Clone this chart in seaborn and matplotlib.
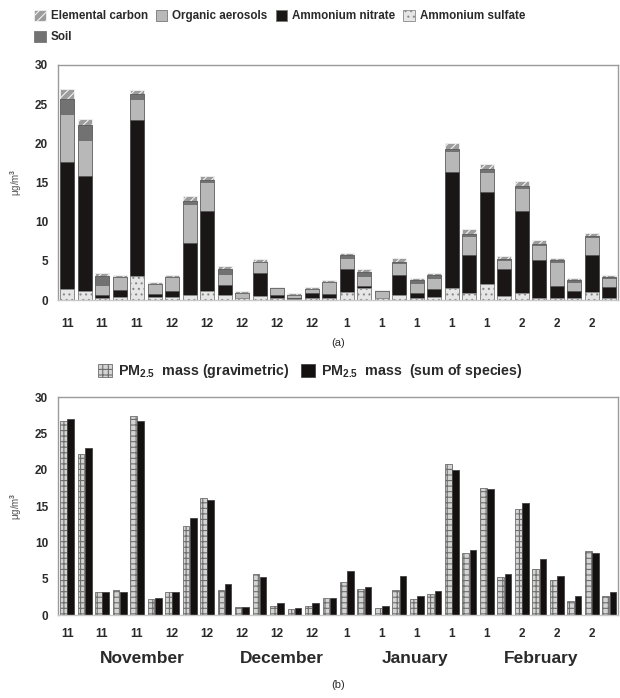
import numpy as np
import pandas as pd
import matplotlib
matplotlib.use("Agg")
import matplotlib.pyplot as plt
import seaborn as sns
from matplotlib.patches import Patch

# ---------------- data ----------------
month_ticks = ["11", "11", "11", "12", "12", "12", "12", "12",
               "1", "1", "1", "1", "1", "2", "2", "2"]
month_names = ["November", "December", "January", "February"]

sulfate = [1.4, 1.15, 0.3, 0.35, 3.1, 0.4, 0.4, 0.6, 1.1, 0.6, 0.2, 0.5, 0.3, 0.1, 0.25, 0.3,
           1.0, 1.5, 0.2, 0.6, 0.3, 0.4, 1.5, 0.9, 2.0, 0.5, 0.85, 0.3, 0.2, 0.3, 1.05, 0.3]
nitrate = [16.2, 14.65, 0.4, 0.95, 19.9, 0.4, 0.7, 6.7, 10.2, 1.3, 0.1, 2.9, 0.4, 0.2, 0.65, 0.5,
           3.0, 0.3, 0.1, 2.6, 0.6, 1.05, 14.9, 4.8, 11.8, 3.4, 10.45, 4.8, 1.6, 0.85, 4.65, 1.4]
organic = [6.2, 4.6, 1.2, 1.6, 2.7, 1.2, 1.8, 5.0, 3.7, 1.4, 0.65, 1.5, 0.8, 0.4, 0.5, 1.5,
           1.3, 1.2, 0.8, 1.5, 1.3, 1.35, 2.6, 2.5, 2.6, 1.2, 3.0, 1.9, 3.0, 1.2, 2.3, 1.1]
soil = [1.9, 1.9, 1.2, 0.0, 0.6, 0.0, 0.0, 0.3, 0.3, 0.7, 0.0, 0.0, 0.0, 0.0, 0.0, 0.0,
        0.4, 0.6, 0.0, 0.2, 0.35, 0.4, 0.3, 0.2, 0.3, 0.1, 0.3, 0.2, 0.3, 0.15, 0.2, 0.1]
ec = [1.2, 0.8, 0.3, 0.3, 0.5, 0.3, 0.3, 0.7, 0.5, 0.3, 0.15, 0.3, 0.2, 0.15, 0.2, 0.25,
      0.3, 0.3, 0.2, 0.4, 0.25, 0.2, 0.8, 0.6, 0.6, 0.4, 0.6, 0.4, 0.3, 0.3, 0.4, 0.3]

gravimetric = [26.7, 22.1, 3.2, 3.5, 27.4, 2.2, 3.1, 12.3, 16.1, 3.4, 1.15, 5.7, 1.2, 0.8, 1.2, 2.3,
               4.5, 3.6, 0.9, 3.5, 2.15, 2.85, 20.8, 8.6, 17.5, 5.2, 14.6, 6.3, 4.8, 1.9, 8.85, 2.65]
sum_species = [27.0, 23.0, 3.2, 3.2, 26.7, 2.3, 3.2, 13.3, 15.8, 4.3, 1.15, 5.2, 1.6, 0.9, 1.6, 2.4,
               6.05, 3.9, 1.25, 5.4, 2.65, 3.35, 20.0, 8.9, 17.3, 5.6, 15.4, 7.65, 5.3, 2.65, 8.5, 3.1]

species_labels = ["Elemental carbon", "Organic aerosols", "Ammonium nitrate",
                  "Ammonium sulfate", "Soil"]
pm_labels = [r"PM$_{2.5}$  mass (gravimetric)", r"PM$_{2.5}$  mass  (sum of species)"]

# ---------------- styling ----------------
sns.set_theme(style="white")
plt.rcParams["font.family"] = ["Liberation Sans", "DejaVu Sans"]
plt.rcParams["mathtext.fontset"] = "custom"
plt.rcParams["mathtext.rm"] = "Liberation Sans:bold"
plt.rcParams["mathtext.it"] = "Liberation Sans:bold"
plt.rcParams["mathtext.bf"] = "Liberation Sans:bold"
plt.rcParams["hatch.linewidth"] = 0.8
TXT = "#2a2a2a"

styles = {
    "Elemental carbon": dict(color="#9c9c9c", edge="#f2f2f2", hatch="////"),
    "Organic aerosols": dict(color="#b8b8b8", edge="#6a6a6a", hatch=None),
    "Ammonium nitrate": dict(color="#1b1616", edge="#555555", hatch=None),
    "Ammonium sulfate": dict(color="#e6e6e6", edge="#8a8a8a", hatch="..."),
    "Soil": dict(color="#727272", edge="#5a5a5a", hatch=None),
}

n = len(sulfate)
idx = list(range(n))

fig = plt.figure(figsize=(6.2, 6.98), dpi=100)
ax1 = fig.add_axes([0.0935, 0.5702, 0.9035, 0.3367])
ax2 = fig.add_axes([0.0935, 0.1189, 0.9035, 0.3123])

# ---------- top: stacked bars via cumulative overlays ----------
c_sulf = np.array(sulfate)
c_nit = c_sulf + np.array(nitrate)
c_org = c_nit + np.array(organic)
c_soil = c_org + np.array(soil)
c_ec = c_soil + np.array(ec)
layers = [("Elemental carbon", c_ec), ("Soil", c_soil), ("Organic aerosols", c_org),
          ("Ammonium nitrate", c_nit), ("Ammonium sulfate", c_sulf)]
for name, vals in layers:
    st = styles[name]
    df = pd.DataFrame({"i": idx, "v": vals})
    sns.barplot(data=df, x="i", y="v", color=st["color"], saturation=1, width=0.8,
                edgecolor=st["edge"], linewidth=0.6, hatch=st["hatch"], ax=ax1,
                errorbar=None)

ax1.set_ylim(0, 30)
ax1.set_xlim(-0.52, n - 0.5)
ax1.set_yticks(range(0, 31, 5))
ax1.set_xticks(range(0, n, 2))
ax1.set_xticklabels(month_ticks)
ax1.set_xlabel("")
ax1.set_ylabel("μg/m$^3$", fontsize=7, color="#555555", labelpad=8)
ax1.text(0.5, -0.185, "(a)", transform=ax1.transAxes, ha="center", va="center",
         fontsize=8, color=TXT)

# ---------- bottom: grouped bars ----------
df2 = pd.DataFrame({
    "i": idx * 2,
    "v": gravimetric + sum_species,
    "kind": [pm_labels[0]] * n + [pm_labels[1]] * n,
})
sns.barplot(data=df2, x="i", y="v", hue="kind", hue_order=pm_labels,
            palette=["#d4d4d4", "#141010"], saturation=1, width=0.84, gap=0.1,
            errorbar=None, ax=ax2, legend=False, linewidth=0.6)
for k, p in enumerate(ax2.patches):
    if k < n:
        p.set_hatch("+++")
        p.set_edgecolor("#6e6e6e")
    else:
        p.set_edgecolor("#444444")

ax2.set_ylim(0, 30)
ax2.set_xlim(-0.52, n - 0.5)
ax2.set_yticks(range(0, 31, 5))
ax2.set_xticks(range(0, n, 2))
ax2.set_xticklabels(month_ticks)
ax2.set_xlabel("")
ax2.set_ylabel("μg/m$^3$", fontsize=7, color="#555555", labelpad=8)
month_pos = [4.3, 12.3, 19.9, 27.1]
for mx, mn in zip(month_pos, month_names):
    ax2.text(mx, -0.2, mn, transform=ax2.get_xaxis_transform(), ha="center",
             va="center", fontsize=12.5, fontweight="bold", color=TXT)
ax2.text(0.5, -0.32, "(b)", transform=ax2.transAxes, ha="center", va="center",
         fontsize=8, color=TXT)

for ax, xpad in ((ax1, 13), (ax2, 9)):
    for sp in ax.spines.values():
        sp.set_visible(True)
        sp.set_color("#9a9a9a")
        sp.set_linewidth(1.0)
    ax.spines["bottom"].set_color("#c8c8c8")
    ax.tick_params(axis="y", length=0, pad=7, labelsize=8.5, labelcolor=TXT)
    ax.tick_params(axis="x", length=0, pad=xpad, labelsize=8.5, labelcolor=TXT)
    for lab in ax.get_xticklabels() + ax.get_yticklabels():
        lab.set_fontweight("bold")

# ---------- legends ----------
order = ["Elemental carbon", "Soil", "Organic aerosols", "Ammonium nitrate", "Ammonium sulfate"]
h1 = [Patch(facecolor=styles[k]["color"],
            edgecolor=styles[k]["edge"] if styles[k]["hatch"] else "#777777",
            hatch=styles[k]["hatch"], linewidth=0.6, label=k) for k in order]
leg1 = fig.legend(handles=h1, loc="upper left", bbox_to_anchor=(0.042, 0.997), ncol=4,
                  frameon=False, fontsize=8.4, handlelength=1.0, handleheight=1.0,
                  handletextpad=0.4, columnspacing=0.7, labelspacing=0.75, borderaxespad=0.3)
for t in leg1.get_texts():
    t.set_fontweight("bold")
    t.set_color(TXT)

h2 = [Patch(facecolor="#d4d4d4", edgecolor="#6e6e6e", hatch="+++", linewidth=0.6, label=pm_labels[0]),
      Patch(facecolor="#141010", edgecolor="#444444", linewidth=0.6, label=pm_labels[1])]
leg2 = fig.legend(handles=h2, loc="center", bbox_to_anchor=(0.5, 1 - 371 / 698), ncol=2,
                  frameon=False, fontsize=10.3, handlelength=1.0, handleheight=1.0,
                  handletextpad=0.4, columnspacing=0.8)
for t in leg2.get_texts():
    t.set_fontweight("bold")
    t.set_color(TXT)

fig.savefig("out.png", dpi=100, facecolor="white")
